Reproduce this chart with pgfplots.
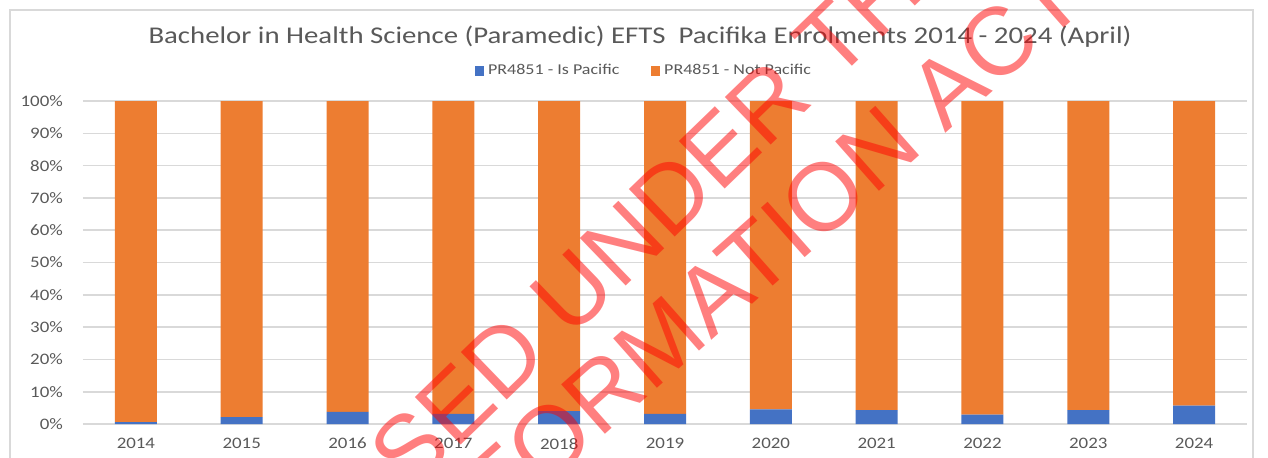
\documentclass[border=0pt]{standalone}
\usepackage{pgfplots}
\pgfplotsset{compat=1.18}
\usepackage{fontspec}
\setmainfont{Carlito}
\newfontfamily\wmfont{Liberation Sans}
\definecolor{xlblue}{HTML}{4472C4}
\definecolor{xlorange}{HTML}{ED7D31}
\definecolor{xlgrid}{HTML}{D9D9D9}
\definecolor{xltext}{HTML}{595959}
\newcommand{\wide}[1]{\scalebox{1.2}[1]{#1}}

\begin{document}
\begin{tikzpicture}
\useasboundingbox (-41.5pt,-16.5pt) rectangle (592.5pt,212pt);
% chart frame
\draw[xlgrid, line width=0.6pt] (-36.5pt,-20pt) -- (-36.5pt,207pt) -- (585pt,207pt) -- (585pt,-20pt);
\begin{axis}[
  scale only axis, width=582pt, height=161.5pt,
  ybar stacked, bar width=21pt,
  xmin=-0.5, xmax=10.5, ymin=0, ymax=100,
  xtick={0,1,2,3,4,5,6,7,8,9,10},
  xticklabels={2014,2015,2016,2017,2018,2019,2020,2021,2022,2023,2024},
  ytick={0,10,...,100},
  yticklabel={\pgfmathprintnumber{\tick}\%},
  /pgf/number format/assume math mode=true,
  ymajorgrids, grid style={xlgrid, line width=0.8pt},
  axis line style={draw=none}, major tick length=0,
  tick label style={font=\fontsize{8}{9}\selectfont, text=xltext, xscale=1.18},
  yticklabel style={xshift=-5pt},
  xticklabel style={yshift=-3.5pt},
  legend columns=2,
  legend style={at={(0.483,1.093)}, anchor=center, draw=none, fill=none,
    font=\fontsize{7.5}{9}\selectfont, text=xltext,
    /tikz/every even column/.append style={column sep=14pt}},
  legend image code/.code={\fill[#1] (0pt,-2.3pt) rectangle (4.4pt,2.3pt);},
]
\addplot[fill=xlblue, draw=none] coordinates {
  (0,0.6) (1,2.1) (2,3.75) (3,3.1) (4,4.0) (5,3.1)
  (6,4.5) (7,4.3) (8,2.9) (9,4.3) (10,5.7) };
\addlegendentry{\wide{PR4851 - Is Pacific}}
\addplot[fill=xlorange, draw=none] coordinates {
  (0,99.4) (1,97.9) (2,96.25) (3,96.9) (4,96.0) (5,96.9)
  (6,95.5) (7,95.7) (8,97.1) (9,95.7) (10,94.3) };
\addlegendentry{\wide{PR4851 - Not Pacific}}
\end{axis}
\node[text=xltext, font=\fontsize{12}{14}\selectfont, xscale=1.2] at (278.5pt,193.5pt)
  {Bachelor in Health Science (Paramedic) EFTS\ \ Pacifika Enrolments 2014 - 2024 (April)};
% release watermark
\begin{scope}
\clip (-41.5pt,-16.5pt) rectangle (592.5pt,212pt);
\node[rotate=44, text=red, text opacity=0.5, font=\wmfont\fontsize{48}{48}\selectfont]
  at (236pt,58pt) {RELEASED UNDER THE};
\node[rotate=41.5, text=red, text opacity=0.5, font=\wmfont\fontsize{48}{48}\selectfont]
  at (241pt,-1pt) {OFFICIAL INFORMATION ACT};
\end{scope}
\end{tikzpicture}
\end{document}
